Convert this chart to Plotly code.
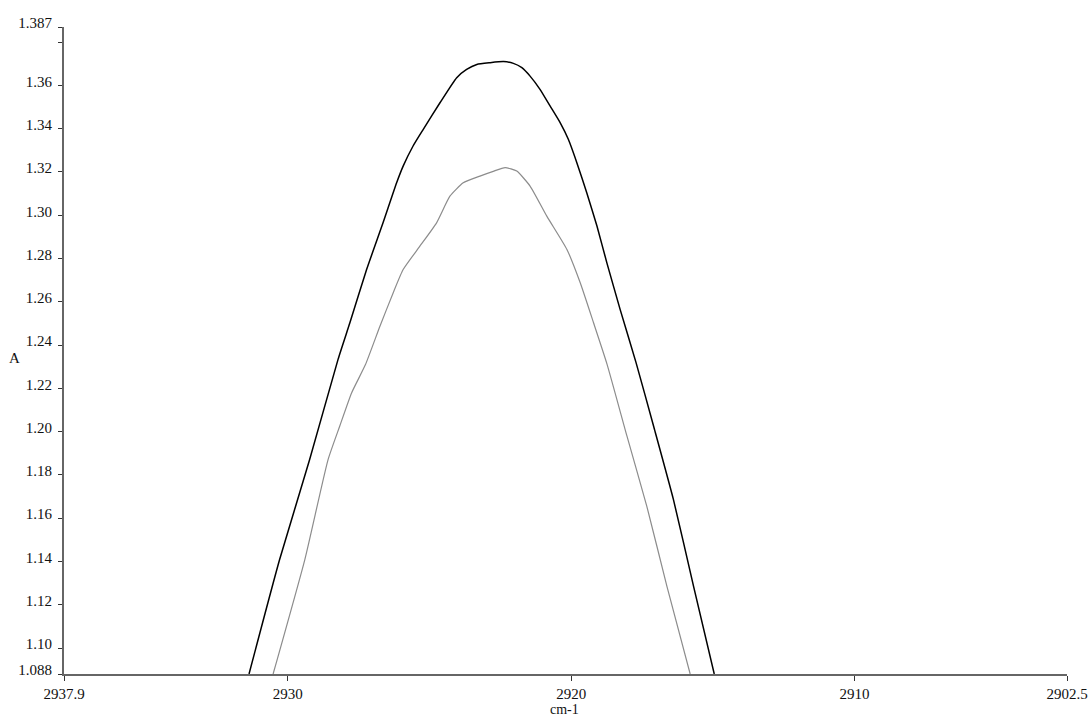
import plotly.graph_objects as go

# Wavenumber (cm-1) and absorbance
black_wn = [2931.37, 2930.29, 2929.23, 2928.23, 2927.81, 2927.22, 2926.64, 2926.16,
            2925.93, 2925.58, 2925.22, 2924.63, 2924.04, 2923.69, 2923.33, 2922.86,
            2922.39, 2922.04, 2921.74, 2921.45, 2921.10, 2920.74, 2920.39, 2920.10,
            2919.80, 2919.45, 2919.09, 2918.74, 2918.27, 2917.71, 2917.09, 2916.39,
            2915.68, 2914.95]
black_a = [1.0880, 1.1409, 1.1871, 1.2333, 1.2503, 1.2749, 1.2965, 1.3150,
           1.3227, 1.3320, 1.3397, 1.3520, 1.3636, 1.3674, 1.3697, 1.3705,
           1.3710, 1.3702, 1.3682, 1.3643, 1.3582, 1.3504, 1.3428, 1.3351,
           1.3243, 1.3104, 1.2950, 1.2780, 1.2564, 1.2319, 1.2025, 1.1686,
           1.1285, 1.0880]

gray_wn = [2930.52, 2929.40, 2928.58, 2928.17, 2927.75, 2927.26, 2926.75, 2926.28,
           2925.93, 2925.34, 2924.75, 2924.28, 2923.81, 2923.22, 2922.75, 2922.33,
           2921.92, 2921.45, 2920.86, 2920.15, 2919.68, 2919.21, 2918.73, 2918.03,
           2917.33, 2916.62, 2915.80]
gray_a = [1.0880, 1.1409, 1.1871, 1.2025, 1.2179, 1.2310, 1.2487, 1.2642,
          1.2749, 1.2857, 1.2965, 1.3088, 1.3150, 1.3181, 1.3203, 1.3220,
          1.3204, 1.3135, 1.2996, 1.2842, 1.2688, 1.2503, 1.2310, 1.1979,
          1.1655, 1.1285, 1.0880]

x_tickvals = [2937.9, 2930, 2920, 2910, 2902.5]
x_ticktext = ["2937.9", "2930", "2920", "2910", "2902.5"]
y_tickvals = [1.088, 1.10, 1.12, 1.14, 1.16, 1.18, 1.20, 1.22, 1.24, 1.26,
              1.28, 1.30, 1.32, 1.34, 1.36, 1.38, 1.387]
y_ticktext = ["1.088", "1.10", "1.12", "1.14", "1.16", "1.18", "1.20", "1.22", "1.24",
              "1.26", "1.28", "1.30", "1.32", "1.34", "1.36", "", "1.387"]

FONT = "Liberation Serif"

fig = go.Figure()
fig.add_trace(go.Scatter(x=gray_wn, y=gray_a, mode="lines",
                         line=dict(color="#8c8c8c", width=1.2, shape="spline", smoothing=0.5),
                         showlegend=False, cliponaxis=True))
fig.add_trace(go.Scatter(x=black_wn, y=black_a, mode="lines",
                         line=dict(color="#000000", width=1.5, shape="spline", smoothing=0.5),
                         showlegend=False, cliponaxis=True))

fig.update_layout(
    template="none",
    width=1091, height=717,
    margin=dict(l=64, r=24, t=27, b=43, autoexpand=False),
    paper_bgcolor="white", plot_bgcolor="white",
    font=dict(family=FONT, size=15, color="#111"),
    showlegend=False,
)
fig.update_xaxes(
    range=[2937.9, 2902.5], tickmode="array", tickvals=x_tickvals, ticktext=x_ticktext,
    ticks="outside", ticklen=5, tickwidth=1.2, tickcolor="#333",
    showline=True, linecolor="#666", linewidth=2, showgrid=False, zeroline=False,
    tickfont=dict(family=FONT, size=15, color="#111"), ticklabelstandoff=0,
    automargin=False,
)
fig.update_yaxes(
    range=[1.088, 1.387], tickmode="array", tickvals=y_tickvals, ticktext=y_ticktext,
    ticks="outside", ticklen=4, tickwidth=1.2, tickcolor="#333",
    showline=True, linecolor="#666", linewidth=2, showgrid=False, zeroline=False,
    tickfont=dict(family=FONT, size=15, color="#111"), ticklabelstandoff=3, ticklabelshift=-4,
    automargin=False,
)
fig.add_annotation(text="A", xref="paper", yref="paper", x=-0.0495, y=0.488,
                   xanchor="center", yanchor="middle", showarrow=False,
                   font=dict(family=FONT, size=15, color="#111"))
fig.add_annotation(text="cm-1", xref="paper", yref="paper", x=0.4995, y=0,
                   yshift=-35, xanchor="center", yanchor="middle", showarrow=False,
                   font=dict(family=FONT, size=14, color="#111"))

fig.write_html("out.html")
